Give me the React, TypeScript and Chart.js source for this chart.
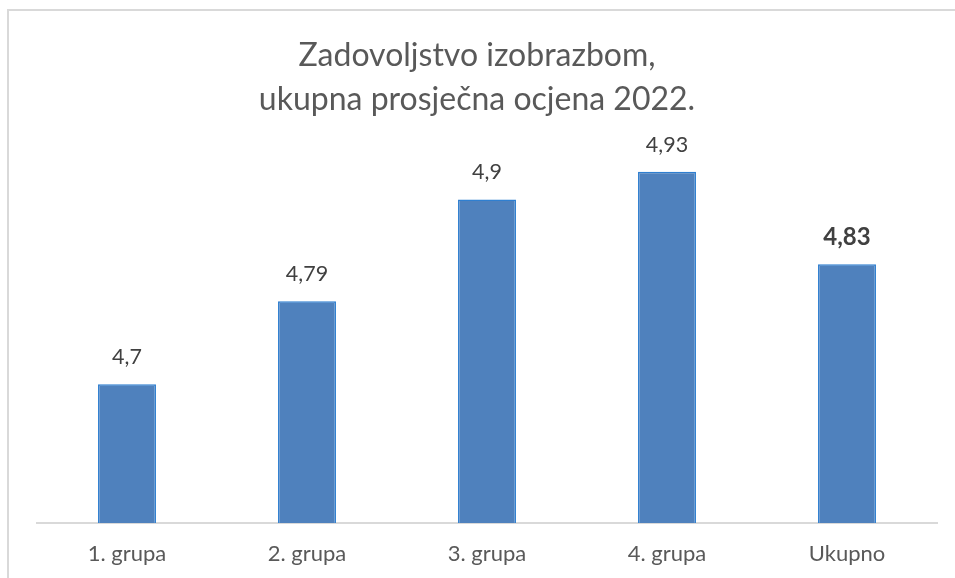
import React, { useEffect, useRef } from "react";
import { Chart, registerables } from "chart.js";

Chart.register(...registerables);

const categories = ["1. grupa", "2. grupa", "3. grupa", "4. grupa", "Ukupno"];
const values = [4.7, 4.79, 4.9, 4.93, 4.83];
const valueLabels = ["4,7", "4,79", "4,9", "4,93", "4,83"];
const titleLines = ["Zadovoljstvo izobrazbom,", "ukupna prosječna ocjena 2022."];
const yMin = 4.55;
const yMax = 5.0;

const FONT = "Lato, 'Open Sans', sans-serif";

const titlePlugin = {
  id: "customTitle",
  afterDraw(chart: any) {
    const ctx = chart.ctx;
    ctx.save();
    ctx.textAlign = "center";
    ctx.textBaseline = "middle";
    ctx.fillStyle = "#595959";
    ctx.font = `32px ${FONT}`;
    titleLines.forEach((line, i) => ctx.fillText(line, 477, 56 + i * 44));
    ctx.restore();
  },
};

const valueLabelPlugin = {
  id: "valueLabels",
  afterDatasetsDraw(chart: any) {
    const ctx = chart.ctx;
    const meta = chart.getDatasetMeta(0);
    ctx.save();
    ctx.textAlign = "center";
    ctx.textBaseline = "middle";
    meta.data.forEach((bar: any, i: number) => {
      const last = i === meta.data.length - 1;
      ctx.fillStyle = "#404040";
      ctx.font = last ? `bold 24px ${FONT}` : `21.5px ${FONT}`;
      ctx.fillText(valueLabels[i], bar.x, bar.y - 27);
    });
    ctx.restore();
  },
};

export default function App() {
  const canvasRef = useRef<HTMLCanvasElement | null>(null);

  useEffect(() => {
    document.body.style.margin = "0";
    document.body.style.overflow = "hidden";
    const canvas = canvasRef.current!;
    const chart = new Chart(canvas, {
      type: "bar",
      data: {
        labels: categories,
        datasets: [
          {
            data: values,
            backgroundColor: "#4f81bd",
            borderColor: "#2f7fd0",
            borderWidth: 1.5,
            categoryPercentage: 1,
            barPercentage: 0.322,
          },
        ],
      },
      options: {
        animation: false,
        responsive: false,
        devicePixelRatio: 1,
        layout: { padding: { left: 37, right: 18, top: 107, bottom: 0 } },
        plugins: {
          legend: { display: false },
          tooltip: { enabled: false },
          title: { display: false },
        },
        scales: {
          y: { display: false, min: yMin, max: yMax },
          x: {
            grid: { display: false, drawTicks: false },
            border: { display: true, color: "#d9d9d9", width: 2 },
            ticks: { color: "#595959", font: { family: FONT, size: 22 }, padding: 18 },
            afterFit: (scale: any) => {
              scale.height = 55;
            },
          },
        },
      },
      plugins: [titlePlugin, valueLabelPlugin],
    });
    return () => chart.destroy();
  }, []);

  return (
    <div style={{ position: "fixed", left: 0, top: 0, width: 955, height: 578, background: "#fff", overflow: "hidden" }}>
      <div
        style={{
          position: "absolute",
          left: 7,
          top: 9,
          width: 960,
          height: 600,
          borderLeft: "2px solid #d9d9d9",
          borderTop: "2px solid #d9d9d9",
        }}
      />
      <canvas ref={canvasRef} width={955} height={578} style={{ position: "absolute", left: 0, top: 0 }} />
    </div>
  );
}
